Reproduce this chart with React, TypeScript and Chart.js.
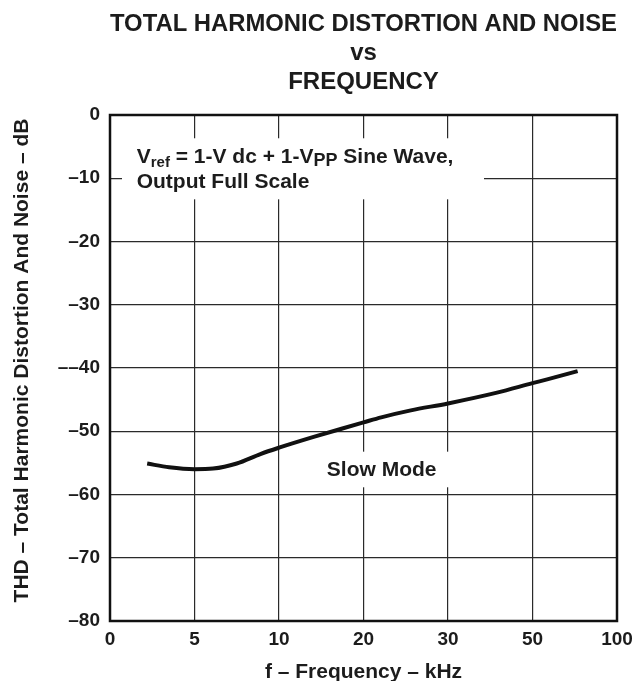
import React, { useEffect, useRef } from "react";
import { Chart, registerables } from "chart.js";

Chart.register(...registerables);

// ---- data ----
const TITLE_LINES = ["TOTAL HARMONIC DISTORTION AND NOISE", "vs", "FREQUENCY"];
const X_TICK_LABELS = ["0", "5", "10", "20", "30", "50", "100"];
const X_TICK_KHZ = [0, 5, 10, 20, 30, 50, 100]; // frequency at each evenly spaced grid line
const Y_TICK_VALUES = [0, -10, -20, -30, -40, -50, -60, -70, -80];
const Y_TICK_LABELS = ["0", "–10", "–20", "–30", "––40", "–50", "–60", "–70", "–80"];
const FREQ_KHZ = [2.2, 3.5, 5, 6.1, 7.5, 8.9, 10, 14.1, 17.4, 20, 22.1, 25.6, 30, 41.6, 50, 58.7, 76.7];
const THD_DB = [-55.1, -55.7, -56.0, -55.9, -55.1, -53.6, -52.6, -50.9, -49.6, -48.6, -47.8, -46.7, -45.6, -43.9, -42.4, -41.8, -40.5];
const X_TITLE = "f – Frequency – kHz";
const Y_TITLE = "THD – Total Harmonic Distortion And Noise – dB";
const SERIES_LABEL = "Slow Mode";

// map a frequency onto the evenly spaced grid position (piecewise linear between labelled lines)
function toGridPos(f: number): number {
  for (let i = 0; i < X_TICK_KHZ.length - 1; i++) {
    const a = X_TICK_KHZ[i];
    const b = X_TICK_KHZ[i + 1];
    if (f <= b) return i + (f - a) / (b - a);
  }
  return X_TICK_KHZ.length - 1;
}

const FONT = "'Liberation Sans', Arial, Helvetica, sans-serif";
const INK = "#1c1c1c";

const annotationPlugin = {
  id: "annotations",
  beforeDatasetsDraw(chart: any) {
    const { ctx, scales } = chart;
    const x = scales.x;
    const y = scales.y;
    ctx.save();
    // white boxes behind annotation text
    ctx.fillStyle = "#ffffff";
    const b1x0 = x.getPixelForValue(0.142), b1x1 = x.getPixelForValue(4.426);
    const b1y0 = y.getPixelForValue(-3.68), b1y1 = y.getPixelForValue(-13.33);
    ctx.fillRect(b1x0, b1y0, b1x1 - b1x0, b1y1 - b1y0);
    const b2x0 = x.getPixelForValue(2.46), b2x1 = x.getPixelForValue(4.05);
    const b2y0 = y.getPixelForValue(-53.23), b2y1 = y.getPixelForValue(-58.86);
    ctx.fillRect(b2x0, b2y0, b2x1 - b2x0, b2y1 - b2y0);

    ctx.fillStyle = INK;
    ctx.textBaseline = "alphabetic";
    ctx.textAlign = "left";
    const segs = [
      { t: "V", s: 21, dy: 0 },
      { t: "ref", s: 15, dy: 4 },
      { t: " = 1-V dc + 1-V", s: 21, dy: 0 },
      { t: "PP", s: 18, dy: 3 },
      { t: " Sine Wave,", s: 21, dy: 0 },
    ];
    let cx = x.getPixelForValue(0.316);
    const base1 = y.getPixelForValue(-7.64);
    for (const sg of segs) {
      ctx.font = `bold ${sg.s}px ${FONT}`;
      ctx.fillText(sg.t, cx, base1 + sg.dy);
      cx += ctx.measureText(sg.t).width;
    }
    ctx.font = `bold 21px ${FONT}`;
    ctx.fillText("Output Full Scale", x.getPixelForValue(0.316), y.getPixelForValue(-11.59));
    ctx.textAlign = "center";
    ctx.fillText(SERIES_LABEL, x.getPixelForValue(3.215), y.getPixelForValue(-57.0));
    ctx.restore();
  },
  afterDraw(chart: any) {
    const { ctx, chartArea } = chart;
    ctx.save();
    ctx.strokeStyle = "#111";
    ctx.lineWidth = 2.5;
    ctx.strokeRect(chartArea.left, chartArea.top, chartArea.right - chartArea.left, chartArea.bottom - chartArea.top);
    // rotated y-axis title
    ctx.fillStyle = INK;
    ctx.font = `bold 21px ${FONT}`;
    ctx.translate(22.7, 360.5);
    ctx.rotate(-Math.PI / 2);
    ctx.textAlign = "center";
    ctx.textBaseline = "middle";
    ctx.fillText(Y_TITLE, 0, 0);
    ctx.restore();
  },
};

export default function App() {
  const ref = useRef<HTMLCanvasElement | null>(null);
  useEffect(() => {
    if (!ref.current) return;
    Chart.defaults.font.family = FONT;
    const chart = new Chart(ref.current, {
      type: "line",
      data: {
        datasets: [
          {
            label: SERIES_LABEL,
            data: FREQ_KHZ.map((f, i) => ({ x: toGridPos(f), y: THD_DB[i] })),
            borderColor: "#111",
            borderWidth: 4,
            pointRadius: 0,
            fill: false,
            cubicInterpolationMode: "monotone",
          },
        ],
      },
      options: {
        responsive: false,
        animation: false,
        layout: { padding: { left: 0, top: 0, bottom: 0, right: 15 } },
        plugins: {
          legend: { display: false },
          tooltip: { enabled: false },
          title: {
            display: true,
            text: TITLE_LINES,
            color: INK,
            fullSize: false,
            font: { size: 24, weight: "bold", lineHeight: 1.2 },
            padding: { top: 10.3, bottom: 18.3 },
          },
        },
        scales: {
          x: {
            type: "linear",
            min: 0,
            max: X_TICK_LABELS.length - 1,
            afterFit: (s: any) => {
              s.height = 60;
              s.paddingLeft = 0;
              s.paddingRight = 0;
            },
            afterBuildTicks: (s: any) => {
              s.ticks = X_TICK_LABELS.map((_, i) => ({ value: i }));
            },
            grid: { color: "#2a2a2a", lineWidth: 1.2, drawTicks: false },
            border: { display: false },
            ticks: {
              padding: 7,
              color: INK,
              font: { size: 19, weight: "bold" },
              maxRotation: 0,
              autoSkip: false,
              callback: (v: any) => X_TICK_LABELS[Math.round(Number(v))] ?? "",
            },
            title: {
              display: true,
              text: X_TITLE,
              color: INK,
              font: { size: 21, weight: "bold", lineHeight: 1 },
              padding: { top: 0, bottom: -2 },
            },
          },
          y: {
            type: "linear",
            min: -80,
            max: 0,
            afterFit: (s: any) => {
              s.width = 110;
            },
            afterBuildTicks: (s: any) => {
              s.ticks = Y_TICK_VALUES.map((v) => ({ value: v }));
            },
            grid: { color: "#2a2a2a", lineWidth: 1.2, drawTicks: false },
            border: { display: false },
            ticks: {
              padding: 10,
              color: INK,
              font: { size: 19, weight: "bold" },
              autoSkip: false,
              callback: (v: any) => {
                const i = Y_TICK_VALUES.indexOf(Number(v));
                return i >= 0 ? Y_TICK_LABELS[i] : "";
              },
            },
          },
        },
      },
      plugins: [annotationPlugin],
    } as any);
    return () => chart.destroy();
  }, []);
  return (
    <div style={{ position: "absolute", left: 0, top: 0, width: 632, height: 681, background: "#fff" }}>
      <canvas ref={ref} width={632} height={681} style={{ display: "block" }} />
    </div>
  );
}
